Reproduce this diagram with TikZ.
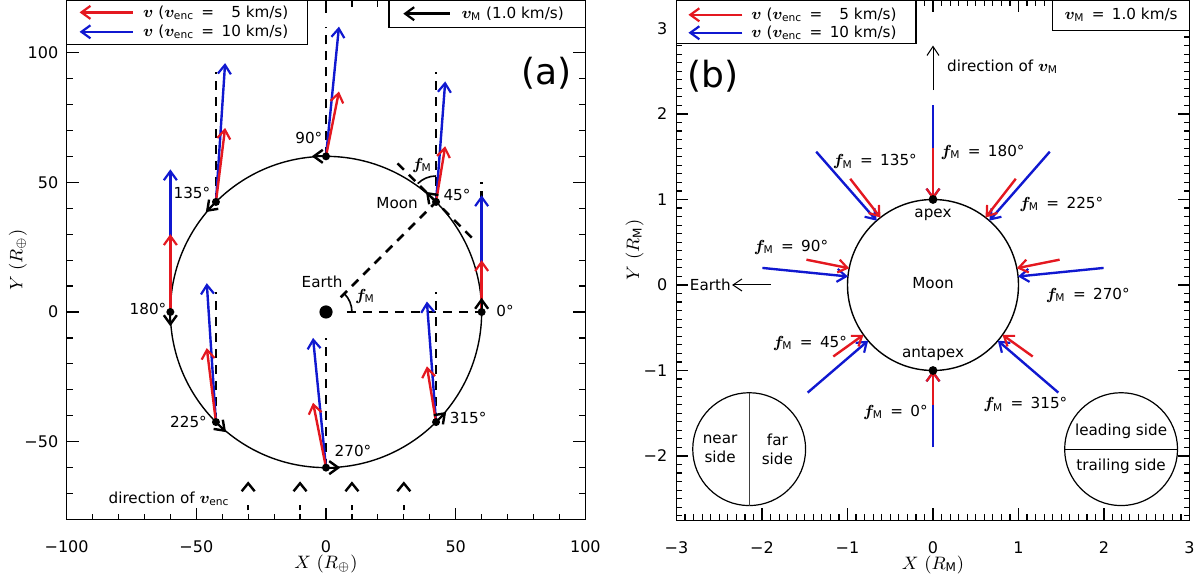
\documentclass[tikz,border=0pt]{standalone}
\usepackage{fontspec}
\setmainfont{DejaVu Sans}
\usepackage{amsmath}
\usepackage{bm}
\usetikzlibrary{arrows.meta}
\definecolor{vred}{RGB}{228,24,32}
\definecolor{vblue}{RGB}{16,24,208}
\tikzset{
  lbl/.style={font=\fontsize{7.6}{9.6}\selectfont, inner sep=0.5pt},
  ticklbl/.style={font=\fontsize{8}{10}\selectfont, inner sep=1pt},
  axtitle/.style={font=\fontsize{9}{11}\selectfont},
  vec/.style={line width=1.2pt, -{Straight Barb[length=4.5pt,width=6.5pt,line width=1.1pt]}},
  thinvec/.style={line width=0.5pt, -{Straight Barb[length=4.5pt,width=6pt,line width=0.5pt]}},
  orbarr/.style={line width=1pt, -{Straight Barb[length=4.5pt,width=6.5pt,line width=1.2pt]}},
  dashln/.style={line width=1.25pt, dash pattern=on 4.5pt off 3.5pt},
  legbox/.style={draw, fill=white, line width=0.6pt},
  frame/.style={line width=0.6pt},
}
\begin{document}
\begin{tikzpicture}
  \useasboundingbox (0,0) rectangle (600pt,288.5pt);
  \begin{scope}[shift={(163pt,132.5pt)},x=1.297pt,y=1.297pt]
    \foreach \t in {-100,-90,...,100} {\draw[frame] (\t,-80) -- ++(0,2.3) (\t,120) -- ++(0,-2.3);}
    \foreach \t in {-80,-70,...,120} {\draw[frame] (-100,\t) -- ++(2.3,0) (100,\t) -- ++(-2.3,0);}
    \foreach \t/\l [count=\i] in {-100/−100,-50/−50,0/0,50/50,100/100} {
      \draw[frame] (\t,-80) -- ++(0,4.6) (\t,120) -- ++(0,-4.6);
      \node[ticklbl] (xa\i) at (\t,-90.4) {\l};}
    \foreach \t/\l [count=\i] in {-50/−50,0/0,50/50,100/100} {
      \draw[frame] (-100,\t) -- ++(4.6,0) (100,\t) -- ++(-4.6,0);
      \node[ticklbl,anchor=east] (ya\i) at (-102.3,\t) {\l};}
    \draw[frame] (-100,-80) rectangle (100,120);
    \node[axtitle] (xtitlea) at (0,-97.3) {$X\ (R_\oplus)$};
    \node[axtitle,rotate=90] (ytitlea) at (-118.8,20) {$Y\ (R_\oplus)$};

    \draw[line width=0.7pt] (0,0) circle[radius=60];
    \foreach \a in {0,45,...,315} {
      \coordinate (m\a) at (\a:60);
      \draw[dashln] (m\a) -- ++(0,50);}
    \draw[dashln] (8,0) -- (m0);
    \draw[dashln] (45:8) -- (m45);
    \draw[dashln] (m45) ++(135:21) -- ++(-45:42);
    \draw[line width=0.8pt] (10,0) arc[start angle=0,end angle=45,radius=10];
    \draw[line width=0.8pt] (m45) ++(0,10) arc[start angle=90,end angle=135,radius=10];
    \fill (0,0) circle[radius=3.3pt];
    \foreach \a in {0,45,...,315} {
      \draw[vec,vblue] (m\a) -- ++({5*sin(\a)},{50-5*cos(\a)});
      \draw[vec,vred] (m\a) -- ++({5*sin(\a)},{25-5*cos(\a)});
      \draw[orbarr] (m\a) -- ++({\a+90}:5.5);
      \fill (m\a) circle[radius=2pt];}
    \foreach \a/\lx/\ly in {0/69/0.4,45/50.5/45,90/-6.6/67,135/-51.7/46,180/-68.6/1,225/-53/-42.4,270/10.4/-53.5,315/54.8/-41}
      \node[lbl] (deg\a) at (\lx,\ly) {\a°};
    \node[lbl] (moona) at (27.4,42) {Moon};
    \node[lbl] (eartha) at (-1.5,11.5) {Earth};
    \node[lbl] (fme) at (15,6) {$\bm{f}_{\text{M}}$};
    \node[lbl] (fmm) at (37,56.5) {$\bm{f}_{\text{M}}$};
    \node[font=\fontsize{18}{22}\selectfont] (taga) at (85,92) {(a)};

    \node[lbl] (direnc) at (-60.5,-72) {direction of $\bm{v}_{\text{enc}}$};
    \foreach \x in {-30,-10,10,30}
      \draw[line width=1.2pt, dash pattern=on 2.5pt off 20pt, -{Straight Barb[length=4pt,width=6.5pt,line width=1.2pt]}] (\x,-76.5) -- (\x,-65.3);

    \draw[legbox] (-100,120) rectangle (-7,103);
    \coordinate (lra) at (-74.5,115.5);
    \coordinate (lba) at (-74.5,108);
    \node[lbl,anchor=west] (lrtxta) at (-71,115.5) {$\bm{v}$ ($\bm{v}_{\text{enc}}$ \,=\, \phantom{1}5 km/s)};
    \node[lbl,anchor=west] (lbtxta) at (-71,108) {$\bm{v}$ ($\bm{v}_{\text{enc}}$ \,=\, 10 km/s)};
    \draw[vec,vred] (lra) -- ++(-20.5,0);
    \draw[vec,vblue] (lba) -- ++(-20.5,0);
    \draw[legbox] (24.3,120) rectangle (100,109.6);
    \node[lbl,anchor=west] (vmtxta) at (51.7,115) {$\bm{v}_{\text{M}}$ (1.0 km/s)};
    \coordinate (vma) at (47.8,115);
    \draw[vec,black] (vma) -- ++(-18,0);
  \end{scope}

  \begin{scope}[shift={(466.5pt,146pt)},x=42.75pt,y=42.75pt]
    \foreach \i in {-30,...,30} {\draw[frame] (\i/10,-2.75) -- ++(0,0.07) (\i/10,3.333) -- ++(0,-0.07);}
    \foreach \i in {-27,...,33} {\draw[frame] (-3,\i/10) -- ++(0.07,0) (3,\i/10) -- ++(-0.07,0);}
    \foreach \t/\l [count=\i] in {-3/−3,-2/−2,-1/−1,0/0,1/1,2/2,3/3} {
      \draw[frame] (\t,-2.75) -- ++(0,0.14) (\t,3.333) -- ++(0,-0.14);
      \node[ticklbl] (xb\i) at (\t,-3.07) {\l};}
    \foreach \t/\l [count=\i] in {-2/−2,-1/−1,0/0,1/1,2/2,3/3} {
      \draw[frame] (-3,\t) -- ++(0.14,0) (3,\t) -- ++(-0.14,0);
      \node[ticklbl,anchor=east] (yb\i) at (-3.08,\t) {\l};}
    \draw[frame] (-3,-2.75) rectangle (3,3.333);
    \node[axtitle] (xtitleb) at (0,-3.27) {$X\ (R_{\text{M}})$};
    \node[axtitle,rotate=90] (ytitleb) at (-3.49,0.41) {$Y\ (R_{\text{M}})$};

    \draw[line width=0.7pt] (0,0) circle[radius=1];
    \foreach \f in {0,45,...,315} {
      \foreach \V/\c in {10/vblue,5/vred} {
        \pgfmathsetmacro\vx{\V*sin(\f)}
        \pgfmathsetmacro\vy{\V*cos(\f)-1}
        \pgfmathsetmacro\vn{sqrt((\vx)^2+(\vy)^2)}
        \pgfmathsetmacro\px{-(\vx)/\vn}
        \pgfmathsetmacro\py{-(\vy)/\vn}
        \pgfmathsetmacro\qx{\px-0.1*(\vx)}
        \pgfmathsetmacro\qy{\py-0.1*(\vy)}
        \draw[vec,\c] (\qx,\qy) -- (\px,\py);}}
    \fill (0,1) circle[radius=2.2pt];
    \fill (0,-1) circle[radius=2.2pt];
    \node[lbl] (moonb) at (0,0.02) {Moon};
    \node[lbl] (apex) at (0,0.82) {apex};
    \node[lbl] (antapex) at (0,-0.8) {antapex};
    \foreach \f/\lx/\ly in {180/0.58/1.556,135/-0.68/1.44,225/1.5/0.94,90/-1.66/0.44,270/1.81/-0.12,45/-1.44/-0.68,0/-0.44/-1.49,315/1.08/-1.4}
      \node[lbl] (fm\f) at (\lx,\ly) {$\bm{f}_{\text{M}}$ \,=\, \f°};

    \coordinate (eb0) at (-1.9,0);
    \node[lbl,anchor=east] (earthb) at (-2.35,0) {Earth};
    \draw[thinvec] (eb0) -- (earthb);
    \coordinate (vm0) at (0,2.28);
    \coordinate (vm1) at (0,2.8);
    \draw[thinvec] (vm0) -- (vm1);
    \node[lbl,anchor=west] (dirvm) at (0.15,2.55) {direction of $\bm{v}_{\text{M}}$};
    \node[font=\fontsize{18}{22}\selectfont] (tagb) at (-2.57,2.44) {(b)};

    \draw[frame] (-2.15,-1.92) circle[radius=0.66];
    \draw[frame,black!75] (-2.15,-1.26) -- (-2.15,-2.58);
    \node[lbl,align=center] (near) at (-2.49,-1.92) {near\\side};
    \node[lbl,align=center] (far) at (-1.82,-1.92) {far\\side};
    \draw[frame] (2.2,-1.92) circle[radius=0.66];
    \draw[frame] (1.54,-1.92) -- (2.86,-1.92);
    \node[lbl] (lead) at (2.2,-1.71) {leading side};
    \node[lbl] (trail) at (2.2,-2.12) {trailing side};

    \draw[legbox] (-3,3.333) rectangle (-0.2,2.82);
    \coordinate (lrb) at (-2.23,3.16);
    \coordinate (lbb) at (-2.23,2.95);
    \node[lbl,anchor=west] (lrtxtb) at (-2.14,3.16) {$\bm{v}$ ($\bm{v}_{\text{enc}}$ \,=\, \phantom{1}5 km/s)};
    \node[lbl,anchor=west] (lbtxtb) at (-2.14,2.95) {$\bm{v}$ ($\bm{v}_{\text{enc}}$ \,=\, 10 km/s)};
    \draw[vec,vred] (lrb) -- ++(-0.63,0);
    \draw[vec,vblue] (lbb) -- ++(-0.63,0);
    \draw[legbox] (1.4,3.333) rectangle (3,2.98);
    \node[lbl] (vmtxtb) at (2.2,3.16) {$\bm{v}_{\text{M}}$ \,=\, 1.0 km/s};
  \end{scope}
\end{tikzpicture}
\end{document}
